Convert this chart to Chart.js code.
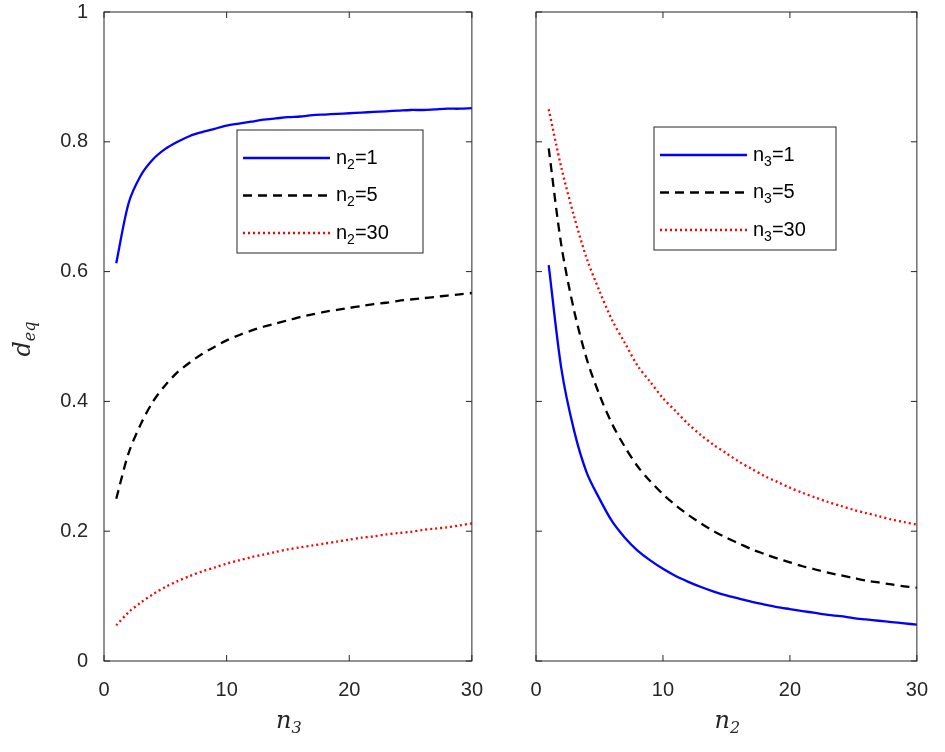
<!DOCTYPE html>
<html>
<head>
<meta charset="utf-8">
<script src="https://cdn.jsdelivr.net/npm/chart.js@4"></script>
<style>
  body { margin: 0; background: #fff; overflow: hidden; }
  #wrap { position: relative; width: 945px; height: 752px; overflow: hidden; }
  canvas { position: absolute; }
</style>
</head>
<body>
<div id="wrap">
  <canvas id="left" style="left:0;top:-16px" width="500" height="768"></canvas>
  <canvas id="right" style="left:500px;top:0" width="445" height="752"></canvas>
</div>
<script>
const nValues = Array.from({ length: 30 }, (_, i) => i + 1);
const xTicks = [0, 10, 20, 30];
const yTicks = [0, 0.2, 0.4, 0.6, 0.8, 1];

// left panel: d_eq vs n3
const leftN2is1 = [.613,.705,.748,.773,.789,.800,.809,.815,.820,.825,.828,.831,.834,.836,.838,.839,.841,.842,.843,.844,.845,.846,.847,.848,.849,.849,.850,.851,.851,.852];
const leftN2is5 = [.25,.32,.365,.40,.425,.445,.46,.473,.484,.494,.502,.509,.515,.52,.525,.53,.534,.538,.541,.544,.547,.55,.552,.555,.557,.559,.561,.563,.565,.567];
const leftN2is30 = [.055,.075,.09,.103,.114,.123,.131,.138,.144,.150,.155,.160,.164,.168,.172,.175,.178,.181,.184,.187,.19,.192,.195,.197,.199,.202,.204,.206,.209,.212];

// right panel: d_eq vs n2
const rightN3is1 = [.61,.45,.355,.29,.25,.215,.19,.17,.155,.142,.131,.122,.114,.107,.101,.096,.091,.087,.083,.08,.077,.074,.071,.069,.066,.064,.062,.06,.058,.056];
const rightN3is5 = [.79,.64,.54,.465,.41,.365,.33,.30,.277,.257,.24,.225,.212,.2,.19,.181,.172,.165,.158,.152,.146,.141,.136,.132,.128,.124,.121,.118,.115,.113];
const rightN3is30 = [.85,.76,.685,.62,.57,.525,.49,.455,.43,.405,.385,.365,.348,.333,.32,.307,.296,.285,.276,.267,.259,.252,.245,.239,.233,.228,.223,.218,.214,.21];

const styles = [
    { color: '#0000ff', dash: [] },
    { color: '#000000', dash: [9, 6] },
    { color: '#ff0000', dash: [2, 3] },
];
const textColor = '#262626';
const sans = '"Liberation Sans", Arial, sans-serif';

const makeDatasets = (series, labels) => series.map((d, i) => ({
    label: labels[i],
    data: d.map((y, j) => ({ x: nValues[j], y })),
    borderColor: styles[i].color,
    borderDash: styles[i].dash,
    borderWidth: 2.3,
    pointRadius: 0,
    tension: 0.3,
    fill: false,
}));

const drawSub = (ctx, x, y, base, sub, rest, baseFont, subFont) => {
    ctx.font = baseFont;
    ctx.fillText(base, x, y);
    x += ctx.measureText(base).width;
    ctx.font = subFont;
    ctx.fillText(sub, x, y + 7);
    x += ctx.measureText(sub).width;
    if (rest) {
        ctx.font = baseFont;
        ctx.fillText(rest, x, y);
    }
};

const framePlugin = (opts) => ({
    id: 'frame',
    afterDraw: (chart) => {
        const ctx = chart.ctx;
        const { left, right, top, bottom } = chart.chartArea;
        const xs = chart.scales.x, ys = chart.scales.y;
        const oy = opts.offsetY;
        ctx.save();
        ctx.strokeStyle = textColor;
        ctx.lineWidth = 1;
        ctx.setLineDash([]);
        ctx.strokeRect(left, top, right - left, bottom - top);
        ctx.beginPath();
        xTicks.forEach(t => {
            const px = xs.getPixelForValue(t);
            ctx.moveTo(px, bottom); ctx.lineTo(px, bottom - 6);
            ctx.moveTo(px, top); ctx.lineTo(px, top + 6);
        });
        yTicks.forEach(t => {
            const py = ys.getPixelForValue(t);
            ctx.moveTo(left, py); ctx.lineTo(left + 6, py);
            ctx.moveTo(right, py); ctx.lineTo(right - 6, py);
        });
        ctx.stroke();

        // legend
        const lg = opts.legend;
        ctx.fillStyle = '#fff';
        ctx.fillRect(lg.x, lg.y + oy, lg.w, lg.h);
        ctx.strokeStyle = textColor;
        ctx.strokeRect(lg.x, lg.y + oy, lg.w, lg.h);
        opts.legendVals.forEach((v, i) => {
            const ry = lg.y + oy + 28 + i * 37.5;
            ctx.strokeStyle = styles[i].color;
            ctx.lineWidth = 2.3;
            ctx.setLineDash(styles[i].dash);
            ctx.beginPath();
            ctx.moveTo(lg.x + 6, ry); ctx.lineTo(lg.x + 93, ry);
            ctx.stroke();
            ctx.fillStyle = '#000';
            ctx.textBaseline = 'middle';
            ctx.textAlign = 'left';
            drawSub(ctx, lg.x + 99, ry, 'n', opts.legendSub, '=' + v, '20px ' + sans, '14px ' + sans);
        });

        // axis titles
        ctx.fillStyle = textColor;
        ctx.textBaseline = 'middle';
        ctx.textAlign = 'left';
        const serif = 'italic 24px "DejaVu Serif", "Liberation Serif", serif';
        const serifSub = 'italic 16px "DejaVu Serif", "Liberation Serif", serif';
        drawSub(ctx, (left + right) / 2 - 12, 722 + oy, 'n', opts.xSub, '', serif, serifSub);
        if (opts.yTitle) {
            ctx.translate(24, (top + bottom) / 2);
            ctx.rotate(-Math.PI / 2);
            drawSub(ctx, -20, 0, 'd', 'eq', '', serif, serifSub);
        }
        ctx.restore();
    },
});

const makeChart = (id, datasets, opts) => new Chart(document.getElementById(id), {
    type: 'line',
    data: { datasets },
    options: {
        responsive: false,
        animation: false,
        layout: { padding: { left: 0, top: 12, right: opts.padRight, bottom: 0 } },
        plugins: { legend: { display: false }, tooltip: { enabled: false } },
        scales: {
            x: {
                type: 'linear', min: 0, max: 30,
                afterBuildTicks: s => { s.ticks = xTicks.map(v => ({ value: v })); },
                afterFit: s => { s.height = 91; },
                grid: { display: false, drawTicks: false },
                border: { display: false },
                ticks: { color: textColor, font: { family: sans, size: 20 }, padding: 17, maxRotation: 0 },
            },
            y: {
                type: 'linear', min: 0, max: 1,
                afterBuildTicks: s => { s.ticks = yTicks.map(v => ({ value: v })); },
                afterFit: s => { s.width = opts.yWidth; },
                grid: { display: false, drawTicks: false },
                border: { display: false },
                ticks: { display: opts.yLabels, color: textColor, font: { family: sans, size: 20 }, padding: 16,
                    callback: v => String(Math.round(v * 10) / 10) },
            },
        },
    },
    plugins: [framePlugin(opts)],
});

makeChart('left', makeDatasets([leftN2is1, leftN2is5, leftN2is30], ['n2=1', 'n2=5', 'n2=30']), {
    padRight: 0, yWidth: 104, yLabels: true, yTitle: true, xSub: '3', legendSub: '2', offsetY: 16,
    legendVals: [1, 5, 30], legend: { x: 237, y: 130, w: 186, h: 123 },
});
makeChart('right', makeDatasets([rightN3is1, rightN3is5, rightN3is30], ['n3=1', 'n3=5', 'n3=30']), {
    padRight: 25, yWidth: 36, yLabels: false, yTitle: false, xSub: '2', legendSub: '3', offsetY: 0,
    legendVals: [1, 5, 30], legend: { x: 154, y: 127, w: 182, h: 123 },
});
</script>
</body>
</html>
